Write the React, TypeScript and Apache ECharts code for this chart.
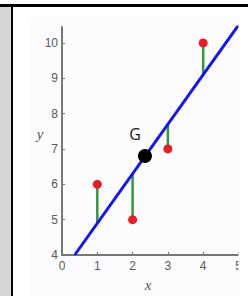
import React, { useEffect, useRef } from "react";
import * as echarts from "echarts";

const xTicks = [0, 1, 2, 3, 4, 5];
const yTicks = [4, 5, 6, 7, 8, 9, 10];
const pointX = [1, 2, 3, 4];
const pointY = [6, 5, 7, 10];
const fitY = [4.9, 6.3, 7.7, 9.1];
const fitLineX = [0.36, 5.27];
const fitLineY = [4, 10.88];
const centroid = [2.35, 6.8];
const centroidLabel = "G";

export default function App() {
  const ref = useRef<HTMLDivElement>(null);
  useEffect(() => {
    if (!ref.current) return;
    const chart = echarts.init(ref.current, null, { renderer: "svg" });
    const axisColor = "#777777";
    const labelStyle = {
      color: "#5a5a5a",
      fontSize: 12,
      fontFamily: "Liberation Sans, Arial, sans-serif",
    };
    chart.setOption({
      animation: false,
      backgroundColor: "#ffffff",
      grid: { left: 62, right: 0, top: 27, bottom: 41 },
      xAxis: {
        type: "value",
        min: 0,
        max: 5.27,
        interval: 1,
        splitLine: { show: false },
        axisLine: { lineStyle: { color: axisColor, width: 2 } },
        axisTick: {
          show: true,
          inside: true,
          length: 3,
          customValues: xTicks,
          lineStyle: { color: axisColor, width: 1 },
        },
        axisLabel: { ...labelStyle, margin: 5, customValues: xTicks },
      },
      yAxis: {
        type: "value",
        min: 4,
        max: 10.45,
        interval: 1,
        splitLine: { show: false },
        axisLine: { lineStyle: { color: axisColor, width: 2 } },
        axisTick: {
          show: true,
          inside: true,
          length: 3,
          customValues: yTicks,
          lineStyle: { color: axisColor, width: 1 },
        },
        axisLabel: { ...labelStyle, margin: 4, customValues: yTicks },
      },
      series: [
        {
          type: "custom",
          z: 2,
          clip: true,
          encode: { x: 0, y: [1, 2] },
          data: pointX.map((x, i) => [x, pointY[i], fitY[i]]),
          renderItem: (params: any, api: any) => {
            const p1 = api.coord([api.value(0), api.value(1)]);
            const p2 = api.coord([api.value(0), api.value(2)]);
            return {
              type: "line",
              shape: { x1: p1[0], y1: p1[1], x2: p2[0], y2: p2[1] },
              style: { stroke: "#2e9a3b", lineWidth: 2.5 },
            };
          },
        },
        {
          type: "line",
          z: 3,
          clip: true,
          symbol: "none",
          data: fitLineX.map((x, i) => [x, fitLineY[i]]),
          lineStyle: { color: "#1414f0", width: 3 },
        },
        {
          type: "scatter",
          z: 4,
          symbolSize: 9,
          itemStyle: { color: "#e61e28", opacity: 1 },
          data: pointX.map((x, i) => [x, pointY[i]]),
        },
        {
          type: "scatter",
          z: 5,
          symbolSize: 14,
          itemStyle: { color: "#000000", opacity: 1 },
          data: [centroid],
          label: {
            show: true,
            formatter: centroidLabel,
            position: "top",
            offset: [-10, -2],
            color: "#1a1a1a",
            fontSize: 16,
            fontFamily: "Open Sans, DejaVu Sans, sans-serif",
          },
        },
      ],
      graphic: [
        {
          type: "rect",
          z: -10,
          silent: true,
          shape: { x: 30, y: 17, width: 210, height: 279 },
          style: { fill: "#fcfbfd" },
        },
        {
          type: "text",
          z: 10,
          x: 40,
          y: 134,
          style: {
            text: "y",
            fill: "#555555",
            fontSize: 15,
            fontStyle: "italic",
            fontFamily: "Liberation Serif, DejaVu Serif, serif",
            align: "center",
            verticalAlign: "middle",
          },
        },
        {
          type: "text",
          z: 10,
          x: 148,
          y: 285,
          style: {
            text: "x",
            fill: "#555555",
            fontSize: 15,
            fontStyle: "italic",
            fontFamily: "Liberation Serif, DejaVu Serif, serif",
            align: "center",
            verticalAlign: "middle",
          },
        },
        {
          type: "rect",
          z: 50,
          silent: true,
          shape: { x: 238.5, y: 7, width: 10, height: 289 },
          style: { fill: "#ffffff" },
        },
        {
          type: "rect",
          z: 60,
          silent: true,
          shape: { x: 0, y: 7, width: 11, height: 289 },
          style: { fill: "#d6d6d6" },
        },
        {
          type: "rect",
          z: 61,
          silent: true,
          shape: { x: 11, y: 4, width: 2, height: 292 },
          style: { fill: "#000000" },
        },
        {
          type: "rect",
          z: 62,
          silent: true,
          shape: { x: 0, y: 4, width: 248, height: 3 },
          style: { fill: "#000000" },
        },
      ],
    });
    return () => chart.dispose();
  }, []);
  return (
    <div
      ref={ref}
      style={{ position: "fixed", left: 0, top: 0, width: 248, height: 296 }}
    />
  );
}
